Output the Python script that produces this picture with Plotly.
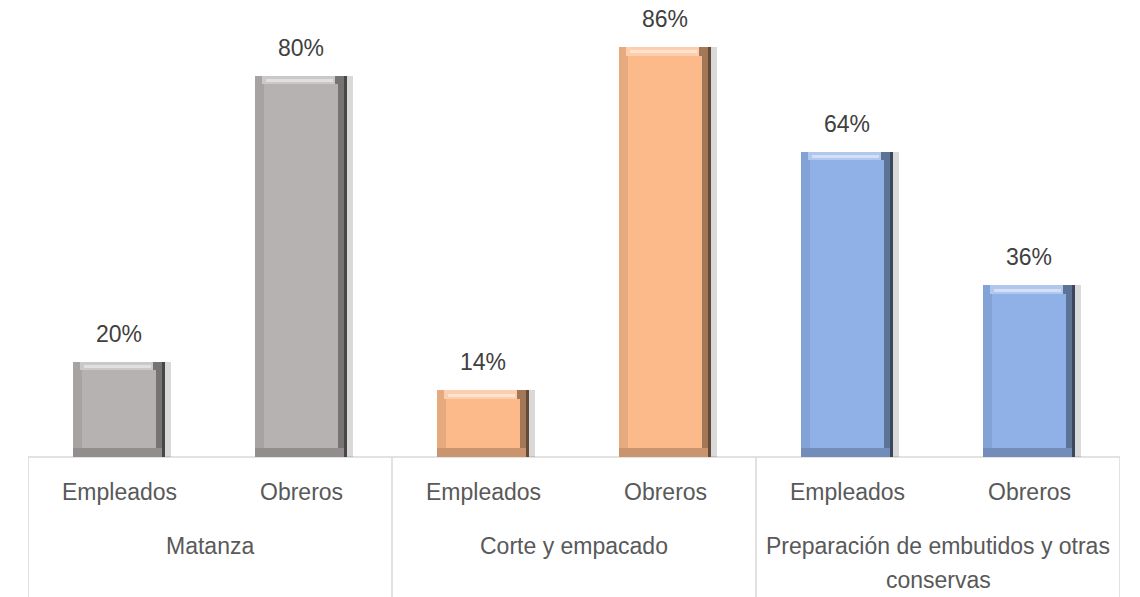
import plotly.graph_objects as go

# ---- data ----
groups = ["Matanza", "Corte y empacado", "Preparación de embutidos y otras conservas"]
group_lines = [["Matanza"], ["Corte y empacado"], ["Preparación de embutidos y otras", "conservas"]]
subcats = ["Empleados", "Obreros"]
values = [0.20, 0.80, 0.14, 0.86, 0.64, 0.36]
bar_colors = ["#b6b2b1", "#b6b2b1", "#fcb98a", "#fcb98a", "#8fb1e8", "#8fb1e8"]


def shade(hexc, f):
    h = hexc.lstrip("#")
    r, g, b = int(h[0:2], 16), int(h[2:4], 16), int(h[4:6], 16)
    if f >= 0:
        r, g, b = [int(c + (255 - c) * f) for c in (r, g, b)]
    else:
        r, g, b = [int(c * (1 + f)) for c in (r, g, b)]
    return f"rgb({r},{g},{b})"


n = len(values)
xs = list(range(n))
W = 0.51
bev_x = 0.05
bev_y = 0.018

fig = go.Figure()
# soft shadow
fig.add_trace(go.Bar(x=xs, y=values, width=W, offset=-W / 2 + 0.03,
                     marker=dict(color="rgba(0,0,0,0.15)", line=dict(width=0)),
                     hoverinfo="skip", showlegend=False))
# dark (right edge)
fig.add_trace(go.Bar(x=xs, y=values, width=W, offset=-W / 2,
                     marker=dict(color=[shade(c, -0.6) for c in bar_colors], line=dict(width=0)),
                     hoverinfo="skip", showlegend=False))
# right facet
fig.add_trace(go.Bar(x=xs, y=values, width=W - 0.018, offset=-W / 2,
                     marker=dict(color=[shade(c, -0.35) for c in bar_colors], line=dict(width=0)),
                     hoverinfo="skip", showlegend=False))
# bottom facet
fig.add_trace(go.Bar(x=xs, y=[bev_y] * n, width=W - 0.018, offset=-W / 2,
                     marker=dict(color=[shade(c, -0.2) for c in bar_colors], line=dict(width=0)),
                     hoverinfo="skip", showlegend=False))
# left facet
fig.add_trace(go.Bar(x=xs, y=[v - bev_y for v in values], base=[bev_y] * n,
                     width=W - 0.018 - bev_x, offset=-W / 2,
                     marker=dict(color=[shade(c, -0.08) for c in bar_colors], line=dict(width=0)),
                     hoverinfo="skip", showlegend=False))
# top facet
fig.add_trace(go.Bar(x=xs, y=[bev_y] * n, base=[v - bev_y for v in values],
                     width=W - 0.018 - 2 * bev_x + 0.01, offset=-W / 2 + bev_x * 0.8,
                     marker=dict(color=[shade(c, 0.3) for c in bar_colors], line=dict(width=0)),
                     hoverinfo="skip", showlegend=False))
# top highlight strip
fig.add_trace(go.Bar(x=xs, y=[bev_y * 0.35] * n, base=[v - bev_y * 0.75 for v in values],
                     width=W - 0.018 - 2.4 * bev_x, offset=-W / 2 + bev_x * 1.2,
                     marker=dict(color=[shade(c, 0.6) for c in bar_colors], line=dict(width=0)),
                     hoverinfo="skip", showlegend=False))
# face
fig.add_trace(go.Bar(x=xs, y=[v - 2 * bev_y for v in values], base=[bev_y] * n,
                     width=W - 2 * bev_x, offset=-W / 2 + bev_x,
                     marker=dict(color=bar_colors, line=dict(width=0)),
                     hoverinfo="skip", showlegend=False))

fig.update_layout(barmode="overlay", bargap=0)

FONT = "Liberation Sans, Arial, sans-serif"
annotations = []
# value labels
for x, v in zip(xs, values):
    annotations.append(dict(x=x, y=v, xref="x", yref="y", text=f"{v:.0%}",
                            showarrow=False, yanchor="middle", yshift=28, borderpad=0,
                            font=dict(family=FONT, size=23, color="#404040")))
# sub-category labels
for i, x in enumerate(xs):
    annotations.append(dict(x=x, y=0, xref="x", yref="paper", text=subcats[i % 2],
                            showarrow=False, yanchor="middle", yshift=-35,
                            font=dict(family=FONT, size=23, color="#595959")))
# group labels
for g, lines in enumerate(group_lines):
    for k, line in enumerate(lines):
        annotations.append(dict(x=2 * g + 0.5, y=0, xref="x", yref="paper", text=line,
                                showarrow=False, yanchor="middle", yshift=-89 - 34 * k,
                                borderpad=0,
                                font=dict(family=FONT, size=23, color="#595959")))

PLOT_H = 449
BOTTOM = 140
shapes = []
# category axis line
shapes.append(dict(type="line", xref="x", yref="paper", x0=-0.5, x1=n - 0.5, y0=0, y1=0,
                   line=dict(color="#d9d9d9", width=1.5), layer="below"))
# group dividers
for d in range(len(groups) + 1):
    shapes.append(dict(type="line", xref="x", yref="paper", x0=2 * d - 0.5, x1=2 * d - 0.5,
                       y0=0, y1=-BOTTOM / PLOT_H, line=dict(color="#d9d9d9", width=1.5),
                       layer="below"))

fig.update_layout(
    width=1132, height=PLOT_H + BOTTOM,
    margin=dict(l=20, r=20, t=0, b=BOTTOM),
    paper_bgcolor="white", plot_bgcolor="white",
    xaxis=dict(range=[-0.5, n - 0.5], showticklabels=False, showgrid=False,
               zeroline=False, showline=False, ticks=""),
    yaxis=dict(range=[0, PLOT_H / 476.8], visible=False, showgrid=False, zeroline=False),
    annotations=annotations, shapes=shapes,
    font=dict(family=FONT),
)

fig.write_html("out.html")
